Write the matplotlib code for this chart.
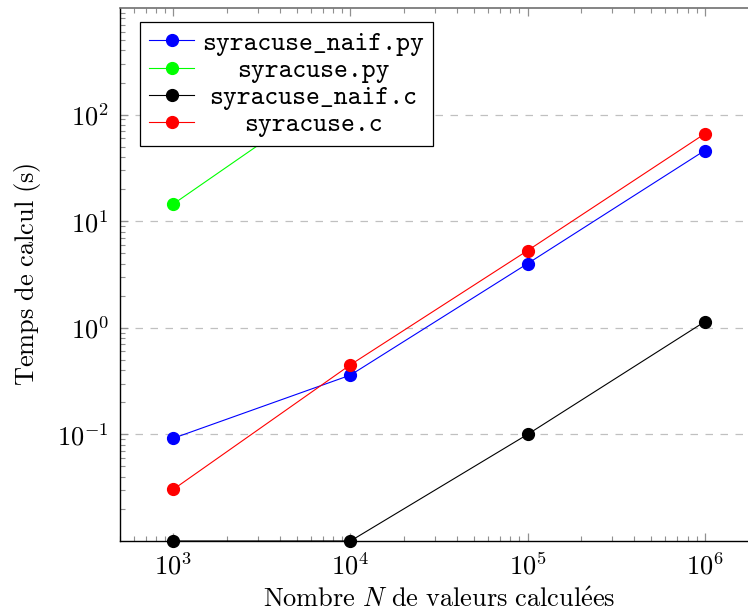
import matplotlib
matplotlib.use("Agg")
import matplotlib.pyplot as plt

# ----------------------------------------------------------------------------
# Data
# ----------------------------------------------------------------------------
N = [1e3, 1e4, 1e5, 1e6]

naif_py = [0.092, 0.36, 4.0, 46.0]
syr_py_n = [1e3, 1e4]
syr_py = [14.5, 205.0]
naif_c = [0.01, 0.01, 0.1, 1.14]
syr_c = [0.0305, 0.45, 5.3, 66.0]

labels = ["syracuse_naif.py", "syracuse.py", "syracuse_naif.c", "syracuse.c"]
colors = ["#0000ff", "#00ff00", "#000000", "#ff0000"]

plt.rcParams["mathtext.fontset"] = "cm"
plt.rcParams["font.family"] = ["cmr10", "DejaVu Serif"]
plt.rcParams["axes.formatter.use_mathtext"] = True

fig = plt.figure(figsize=(7.48, 6.12), dpi=100)
ax = fig.add_axes([120 / 748, 71 / 612, 638 / 748, 533 / 612])

series = [(N, naif_py), (syr_py_n, syr_py), (N, naif_c), (N, syr_c)]
for (xs, ys), lab, c in zip(series, labels, colors):
    ax.plot(xs, ys, color=c, lw=0.8, marker="o", ms=8.5, mec=c, mfc=c,
            label=lab, clip_on=False, zorder=3)

ax.set_xscale("log")
ax.set_yscale("log")
ax.set_xlim(500, 2e6)
ax.set_ylim(0.01, 1000)
ax.set_xticks([1e3, 1e4, 1e5, 1e6])
ax.set_yticks([1e-1, 1e0, 1e1, 1e2])

# dashed horizontal grid on major y ticks only
ax.yaxis.grid(True, which="major", color="#c0c0c0", ls=(0, (6, 6)), lw=0.9)
ax.xaxis.grid(False)
ax.set_axisbelow(True)

ax.tick_params(which="both", direction="in", top=True, right=False,
               color="#909090", labelsize=19, pad=8)
ax.tick_params(which="major", length=6, width=0.9)
ax.tick_params(which="minor", length=3.5, width=0.8)

for s in ["left", "bottom"]:
    ax.spines[s].set_color("black")
    ax.spines[s].set_linewidth(1.0)
ax.spines["top"].set_color("#707070")
ax.spines["top"].set_linewidth(1.2)
ax.spines["right"].set_visible(False)

ax.set_xlabel(r"$\mathrm{Nombre}\ N\ \mathrm{de\ valeurs\ calcul\acute{e}es}$",
              fontsize=19, labelpad=6)
ax.set_ylabel(r"$\mathrm{Temps\ de\ calcul\ (s)}$", fontsize=19, labelpad=10)

leg = ax.legend(loc="upper left", bbox_to_anchor=(20 / 638, 1 - 14 / 533),
                borderaxespad=0, frameon=True, fancybox=False,
                edgecolor="black", framealpha=1,
                prop={"family": ["cmtt10", "DejaVu Sans Mono"], "size": 19},
                handlelength=1.7, handletextpad=0.3, labelspacing=0.1,
                borderpad=0.35)
leg.get_frame().set_linewidth(0.9)
leg.set_zorder(5)

# centre the legend entries like pgfplots does
fig.canvas.draw()
renderer = fig.canvas.get_renderer()
widths = [t.get_window_extent(renderer).width for t in leg.get_texts()]
wmax = max(widths)
for t, w in zip(leg.get_texts(), widths):
    t.set_position(((wmax - w) / 2, 0))

fig.savefig("out.png", dpi=100)
